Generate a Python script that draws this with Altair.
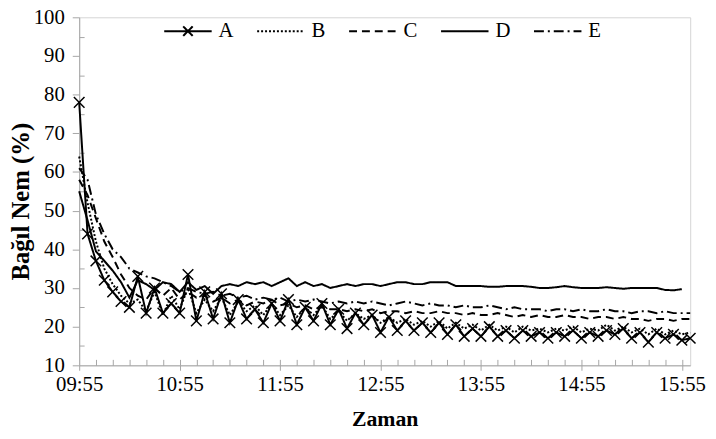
import altair as alt
import pandas as pd

# ---- data ----
series_names = ["A", "B", "C", "D", "E"]
start_minute = 595   # 09:55
step_minutes = 5

A = [78, 44, 37, 32, 29, 26.5, 25, 33, 23.5, 30,
     23.5, 26, 23.5, 33.5, 21.5, 29, 22, 28.5, 21, 27,
     22, 24.5, 21, 26, 21.5, 27, 20.5, 25, 21.5, 26,
     20.5, 24.5, 19.5, 23.5, 20.5, 23, 18.5, 22.5, 19, 21.5,
     19, 21, 18.5, 21, 18, 20.5, 17.5, 19.5, 17.5, 20,
     17.5, 19, 17, 19, 17.5, 18.5, 17, 18.5, 17.5, 19,
     17, 18.5, 17.5, 19, 18, 19.5, 17, 18.5, 16, 18.5,
     17, 18, 16.5, 17]
B = [64, 52, 42, 35, 31, 28, 26, 27, 24, 29,
     23, 28, 24.5, 30, 23.5, 27, 24, 27.5, 23, 26.5,
     24, 25.5, 23, 26, 23, 25.5, 22.5, 25, 23, 25.5,
     22, 24, 21.5, 23.5, 22, 23, 21, 22.5, 21, 22,
     20.5, 21.5, 20, 21.5, 19.5, 21, 19.5, 20.5, 19, 20.5,
     19, 20, 18.5, 20, 19, 19.5, 18.5, 19.5, 19, 20,
     18.5, 19.5, 19, 20.5, 19, 20, 18.5, 19.5, 18, 19.5,
     18, 19, 18, 18.5]
C = [58, 54, 48, 42, 38, 33.5, 30, 28, 27, 30,
     28, 30, 27, 29, 27.5, 28, 26.5, 27.5, 26, 27,
     25.5, 26.5, 26, 27, 25.5, 26, 25, 25.5, 24.5, 25,
     24.5, 24.5, 24, 24.5, 24, 24.5, 23.5, 24, 24, 23.5,
     24, 23.5, 23.5, 24, 23.5, 23.5, 23, 23.5, 23, 23,
     23.5, 23, 22.5, 23, 22.5, 23, 22.5, 22.5, 23, 22.5,
     22.5, 22, 22.5, 22.5, 22, 22.5, 22, 22, 21.5, 22,
     22, 21.5, 22, 22]
D = [55, 47.5, 39.5, 37, 34.5, 31.5, 27.5, 32, 31, 29.5,
     31.5, 31, 29, 31.5, 29.5, 30.5, 28.5, 30.5, 31, 30.5,
     31.5, 31, 31.5, 30.5, 31.5, 32.5, 30.5, 31.5, 30.5, 31,
     30, 30.5, 31, 30.5, 31, 31, 30.5, 31, 31.5, 31.5,
     31, 31, 31.5, 31.5, 31.5, 30.5, 30.5, 30.5, 30.5, 30.3,
     30.3, 30.5, 30.5, 30.5, 30.3, 30, 30, 30.2, 30.5, 30.2,
     30, 30, 30, 30.2, 30, 29.8, 30, 30, 30, 30,
     29.5, 29.4, 29.7]
E = [61, 58, 49, 44, 40, 38, 35, 34, 33, 32.5,
     31.5, 30.5, 29, 30, 29, 28.5, 29, 28, 28.5, 27.5,
     28, 27, 27.5, 27, 27.5, 26.5, 27, 26.5, 27, 26.5,
     26, 26.5, 26, 26.5, 26, 26.5, 26, 25.5, 26, 26.5,
     26, 25.5, 26, 25.5, 25.5, 25, 25.5, 25, 25, 25.5,
     25, 24.5, 25, 24.5, 24.5, 24.5, 24, 24.5, 24.5, 24,
     24.5, 24, 24, 24.5, 24, 24, 23.5, 24, 24, 23.5,
     24, 23.5, 23.5, 23.5]

major_ticks = [595, 655, 715, 775, 835, 895, 955]
minor_ticks = list(range(605, 961, 10))
y_major = list(range(10, 101, 10))
y_minor = list(range(15, 100, 10))

rows = []
for name, vals in zip(series_names, [A, B, C, D, E]):
    for i, v in enumerate(vals):
        rows.append({"t": start_minute + step_minutes * i, "v": v, "s": name})
df = pd.DataFrame(rows)

FONT = "Liberation Serif"
W, H = 618, 352
AX = "#a6a6a6"

dash_scale = alt.Scale(domain=series_names,
                       range=[[1, 0], [2, 2], [8, 5], [1, 0], [10, 4, 2, 4]])
width_scale = alt.Scale(domain=series_names, range=[2.0, 2.0, 2.2, 2.6, 2.1])
line_path = "M-1,0L1,0"
a_path = "M-1,0L1,0M-0.2,-0.2L0.2,0.2M-0.2,0.2L0.2,-0.2"
shape_scale = alt.Scale(domain=series_names,
                        range=[a_path, line_path, line_path, line_path, line_path])

legend = alt.Legend(orient="none", legendX=85, legendY=-11, direction="horizontal",
                    title=None, symbolSize=2304, labelFont=FONT, labelFontSize=21,
                    labelColor="black", labelOffset=6, columnPadding=19,
                    symbolStrokeColor="black", symbolFillColor="transparent")

xlabel = "format(floor(datum.value/60),'02d') + ':' + format(datum.value % 60,'02d')"

x_main = alt.X("t:Q", scale=alt.Scale(domain=[595, 960], nice=False, zero=False),
               axis=alt.Axis(values=major_ticks, labelExpr=xlabel, title="Zaman",
                             tickSize=5, labelPadding=3, titlePadding=15,
                             titleFontSize=22, labelFontSize=21, grid=False,
                             labelFlush=False,
                             labelFont=FONT, titleFont=FONT, titleFontWeight="bold",
                             labelColor="black", titleColor="black",
                             domainColor=AX, tickColor=AX))
y_main = alt.Y("v:Q", scale=alt.Scale(domain=[10, 100], nice=False, zero=False),
               axis=alt.Axis(values=y_major, title="Bağıl Nem (%)", tickSize=7,
                             labelPadding=8, titlePadding=0, titleFontSize=25,
                             labelFontSize=21, titleY=186, grid=False,
                             labelFlush=False,
                             labelFont=FONT, titleFont=FONT, titleFontWeight="bold",
                             labelColor="black", titleColor="black",
                             domainColor=AX, tickColor=AX))

x_inner = alt.X("t:Q", axis=alt.Axis(orient="top", offset=-H, values=minor_ticks,
                                     labels=False, domain=False, grid=False,
                                     tickSize=6, tickColor=AX, title=None))
y_inner = alt.Y("v:Q", axis=alt.Axis(orient="right", offset=-W, values=y_minor,
                                     labels=False, domain=False, grid=False,
                                     tickSize=5, tickColor=AX, title=None))

lines = alt.Chart(df).mark_line(color="black").encode(
    x=x_main, y=y_main,
    strokeDash=alt.StrokeDash("s:N", scale=dash_scale, legend=legend),
    strokeWidth=alt.StrokeWidth("s:N", scale=width_scale, legend=legend),
    detail="s:N",
)

markers = alt.Chart(df).transform_filter(alt.datum.s == "A").mark_point(
    shape="M-1,-1L1,1M-1,1L1,-1", size=115, filled=False, color="black",
    strokeWidth=1.5, opacity=1
).encode(x=x_inner, y=y_inner)

legend_layer = alt.Chart(df).transform_filter("false").mark_point(
    filled=False, color="black", size=2304, opacity=1
).encode(
    x=alt.X("t:Q", axis=None), y=alt.Y("v:Q", axis=None),
    shape=alt.Shape("s:N", scale=shape_scale, legend=legend),
    strokeDash=alt.StrokeDash("s:N", scale=dash_scale, legend=legend),
    strokeWidth=alt.StrokeWidth("s:N", scale=width_scale, legend=legend),
)

chart = alt.layer(lines, markers, legend_layer).resolve_axis(
    x="independent", y="independent"
).properties(
    width=W, height=H,
    background="white",
    autosize=alt.AutoSizeParams(type="none"),
    padding={"left": 72, "top": 7, "right": 18, "bottom": 63},
).configure_view(
    stroke="#d4d4d4", strokeWidth=1
).configure_axis(
    grid=False
)

chart.save("out.html", embed_options={"renderer": "svg", "actions": False})
